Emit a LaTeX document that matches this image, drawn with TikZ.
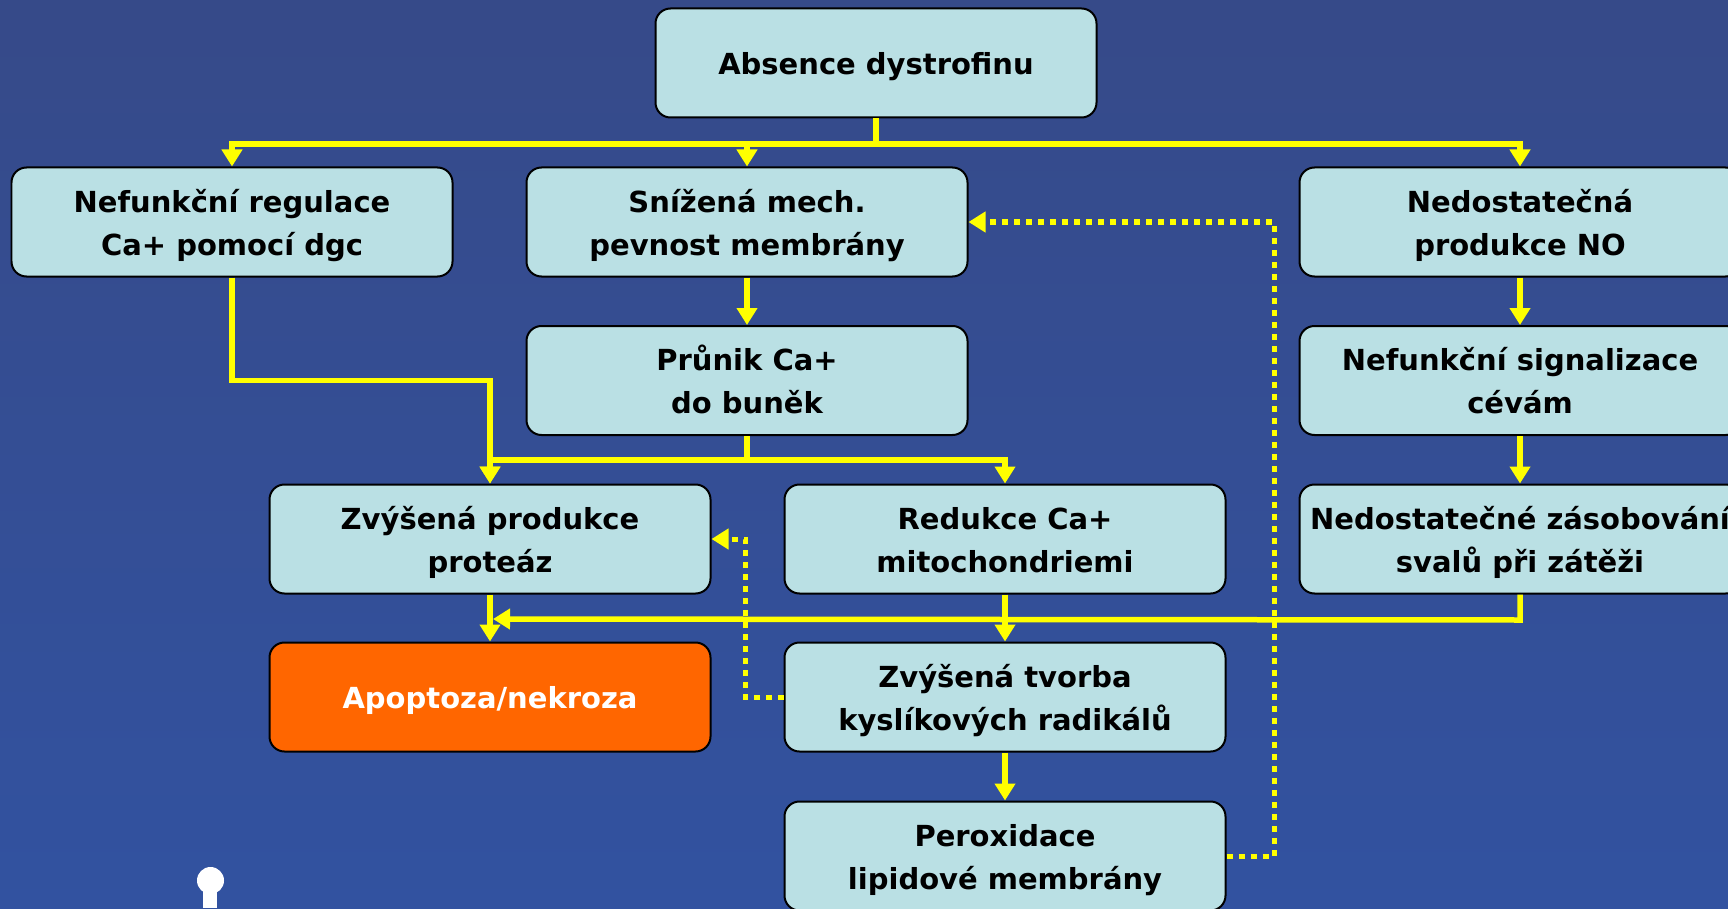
\documentclass[tikz,border=0pt]{standalone}
\usepackage{fontspec}
\setmainfont{DejaVu Sans}
\usepackage{xcolor}
\usepackage{tikz}
\usetikzlibrary{calc}
\usetikzlibrary{arrows.meta}
\definecolor{bgtop}{RGB}{54,74,137}
\definecolor{bgbot}{RGB}{50,82,160}
\definecolor{boxfill}{RGB}{186,224,228}
\definecolor{deadfill}{RGB}{255,102,0}
\definecolor{flowyellow}{RGB}{255,255,0}
\tikzset{
    box/.style={draw=black, line width=0.04cm, rounded corners=0.3cm, fill=boxfill,
        minimum width=8.82cm, minimum height=2.18cm, inner sep=0pt, align=center,
        font=\fontsize{16.5}{24.5}\selectfont\bfseries,
        text height=42.4pt, text depth=4.5pt},
    onebox/.style={box, text height=18pt},
    deadbox/.style={onebox, fill=deadfill, text=white},
    flow/.style={draw=flowyellow, line width=0.11cm,
        -{Triangle[length=0.34cm, width=0.4cm]}},
    feedback/.style={draw=flowyellow, line width=0.1cm, dash pattern=on 0.12cm off 0.12cm,
        -{Triangle[length=0.34cm, width=0.4cm]}}
}

\begin{document}
\begin{tikzpicture}
        \useasboundingbox (0,0) rectangle (34.56,-18.16);
        \clip (0,0) rectangle (34.56,-18.16);
        \shade[top color=bgtop, bottom color=bgbot] (0,0) rectangle (34.56,-18.16);

        % white figure in the lower left corner
        \fill[white] (4.21,-17.61) circle (0.27);
        \fill[white] (4.05,-17.7) rectangle (4.33,-18.16);

        \node[onebox] (AD) at (17.52,-1.26) {Absence dystrofinu};

        \node[box] (NR) at (4.64,-4.44) {Nefunkční regulace\\Ca+ pomocí dgc};
        \node[box] (SM) at (14.94,-4.44) {Snížená mech.\\pevnost membrány};
        \node[box] (NP) at (30.40,-4.44) {Nedostatečná\\produkce NO};

        \node[box] (PC) at (14.94,-7.61) {Průnik Ca+\\do buněk};
        \node[box] (NS) at (30.40,-7.61) {Nefunkční signalizace\\cévám};

        \node[box] (ZP) at (9.80,-10.78) {Zvýšená produkce\\proteáz};
        \node[box] (RC) at (20.10,-10.78) {Redukce Ca+\\mitochondriemi};
        \node[box] (NZ) at (30.40,-10.78) {Nedostatečné zásobování\\svalů při zátěži};

        \node[deadbox] (AN) at (9.80,-13.94) {Apoptoza/nekroza};
        \node[box] (ZT) at (20.10,-13.94) {Zvýšená tvorba\\kyslíkových radikálů};

        \node[box] (PL) at (20.10,-17.12) {Peroxidace\\lipidové membrány};

        \coordinate (J) at (9.86,-12.38);

        % top fan out
        \draw[flow] (AD.south) -- ++(0,-0.51) -| (NR.north);
        \draw[flow] (AD.south) -- ++(0,-0.51) -| (SM.north);
        \draw[flow] (AD.south) -- ++(0,-0.51) -| (NP.north);

        \draw[flow] (NR.south) -- (NR |- PC) -| (ZP.north);
        \draw[flow] (SM) -- (PC);
        \draw[flow] (PC.south) -- ++(0,-0.48) -| (ZP.north);
        \draw[flow] (PC.south) -- ++(0,-0.48) -| (RC.north);

        \draw[flow] (NP) -- (NS);
        \draw[flow] (NS) -- (NZ);
        \draw[flow] (NZ.south) -- ++(0,-0.51) -- (J);

        \draw[flow] (ZP) -- (AN);
        \draw[flow] (RC) -- (ZT);
        \draw[flow] (ZT) -- (PL);

        % dotted feedback loops
        \draw[feedback] (ZT.west) -- ++(-0.77,0) |- (ZP.east);
        \draw[feedback] (PL.east) -- ++(0.95,0) |- (SM.east);
\end{tikzpicture}
\end{document}
